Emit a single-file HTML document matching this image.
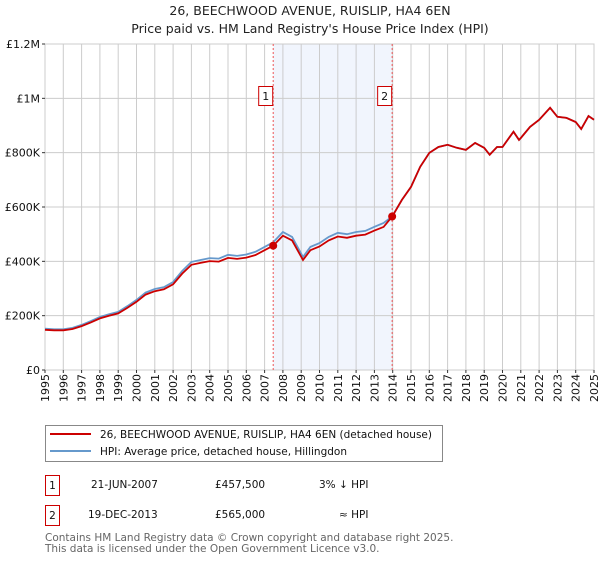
<!DOCTYPE html>
<html><head><meta charset="utf-8"><style>
body{margin:0;background:#fff;font-family:"DejaVu Sans","Liberation Sans",sans-serif;}
svg text{font-family:"DejaVu Sans","Liberation Sans",sans-serif;}
</style></head><body>
<svg id="chart" width="600" height="560" xmlns="http://www.w3.org/2000/svg">
<text x="310" y="15" text-anchor="middle" font-size="12.5" fill="#222">26, BEECHWOOD AVENUE, RUISLIP, HA4 6EN</text>
<text x="310" y="33" text-anchor="middle" font-size="12.5" fill="#222">Price paid vs. HM Land Registry's House Price Index (HPI)</text>
<g id="grid"></g><g id="series"></g><g id="axes"></g>
<g>
<rect x="45.5" y="425.5" width="397" height="36" fill="#fff" stroke="#888"/>
<line x1="50" y1="434" x2="91" y2="434" stroke="#cc0000" stroke-width="2"/>
<text x="100" y="438" font-size="10.5" fill="#111">26, BEECHWOOD AVENUE, RUISLIP, HA4 6EN (detached house)</text>
<line x1="50" y1="451" x2="91" y2="451" stroke="#6699cc" stroke-width="2"/>
<text x="100" y="455" font-size="10.5" fill="#111">HPI: Average price, detached house, Hillingdon</text>
</g>
<g font-size="10.5" fill="#111">
<rect x="45.5" y="475.5" width="14" height="20" fill="none" stroke="#cc0000"/>
<text x="52.5" y="489" text-anchor="middle">1</text>
<text x="91" y="488">21-JUN-2007</text>
<text x="215" y="488">£457,500</text>
<text x="319" y="488">3% ↓ HPI</text>
<rect x="45.5" y="505.5" width="14" height="20" fill="none" stroke="#cc0000"/>
<text x="52.5" y="519" text-anchor="middle">2</text>
<text x="88" y="518">19-DEC-2013</text>
<text x="215" y="518">£565,000</text>
<text x="339" y="518">≈ HPI</text>
</g>
<text x="45" y="541" font-size="10.5" fill="#666">Contains HM Land Registry data © Crown copyright and database right 2025.</text>
<text x="45" y="552" font-size="10.5" fill="#666">This data is licensed under the Open Government Licence v3.0.</text>
</svg>
<script>
const years=[1995,1995.5,1996,1996.5,1997,1997.5,1998,1998.5,1999,1999.5,2000,2000.5,2001,2001.5,2002,2002.5,2003,2003.5,2004,2004.5,2005,2005.5,2006,2006.5,2007,2007.47,2008,2008.5,2009.1,2009.5,2010,2010.5,2011,2011.5,2012,2012.5,2013,2013.5,2013.97,2014.5,2015,2015.5,2016,2016.5,2017,2017.5,2018,2018.5,2019,2019.3,2019.7,2020,2020.6,2020.9,2021,2021.5,2022,2022.6,2023,2023.5,2024,2024.3,2024.7,2025];
const hpi=[152,150,150,155,166,180,195,205,214,235,258,285,298,305,324,365,398,405,412,410,424,420,425,435,453,470,508,490,416,453,467,490,505,500,508,512,527,541,565,626,674,748,799,821,829,818,810,836,818,792,821,821,877,847,854,895,921,965,932,928,913,887,935,921];
const saleYears=[2007.47,2013.97];
const salePrices=[457.5,565];
const saleLabels=["1","2"];
const yTicks=[0,200,400,600,800,1000,1200];
const yTickLabels=["£0","£200K","£400K","£600K","£800K","£1M","£1.2M"];
const xTicks=[1995,1996,1997,1998,1999,2000,2001,2002,2003,2004,2005,2006,2007,2008,2009,2010,2011,2012,2013,2014,2015,2016,2017,2018,2019,2020,2021,2022,2023,2024,2025];
const X0=45,X1=594,Y0=370,Y1=44;
const xs=t=>X0+(t-1995)/30*(X1-X0);
const ys=v=>Y0-v/1200*(Y0-Y1);
const NS="http://www.w3.org/2000/svg";
function mk(tag,attrs,parent){const e=document.createElementNS(NS,tag);for(const k in attrs)e.setAttribute(k,attrs[k]);parent.appendChild(e);return e;}
const grid=document.getElementById('grid'),ser=document.getElementById('series'),ax=document.getElementById('axes');
let shade=mk('rect',{x:xs(saleYears[0]),y:Y1,width:xs(saleYears[1])-xs(saleYears[0]),height:Y0-Y1,fill:'#eef3fd',opacity:0.8},grid);


yTicks.forEach((v,i)=>{
 mk('line',{x1:X0,x2:X1,y1:ys(v),y2:ys(v),stroke:'#cccccc'},grid);
 mk('line',{x1:X0-3,x2:X0,y1:ys(v),y2:ys(v),stroke:'#333'},ax);
 const t=mk('text',{x:X0-5,y:ys(v)+4,'text-anchor':'end','font-size':'11',fill:'#111'},ax);
 t.textContent=yTickLabels[i];
 
 
});
xTicks.forEach(yr=>{
 mk('line',{x1:xs(yr),x2:xs(yr),y1:Y1,y2:Y0,stroke:'#cccccc'},grid);
 mk('line',{x1:xs(yr),x2:xs(yr),y1:Y0,y2:Y0+3,stroke:'#333'},ax);
 const x=xs(yr)+4,y=Y0+4;
 const t=mk('text',{x:x,y:y,'text-anchor':'end','font-size':'11',fill:'#111',transform:'rotate(-90 '+x+' '+y+')'},ax);
 t.textContent=yr;
 
 
});
mk('rect',{x:X0,y:Y1,width:X1-X0,height:Y0-Y1,fill:'none',stroke:'#cccccc'},grid);
function propVal(i){const t=years[i];let k=0;for(let s=0;s<saleYears.length;s++){if(t>=saleYears[s]-1e-9)k=s;}
 const hi=years.findIndex(y=>Math.abs(y-saleYears[k])<1e-6);return hpi[i]*salePrices[k]/hpi[hi];}
let dB='',dR='';
years.forEach((t,i)=>{dB+=(i?'L':'M')+xs(t).toFixed(1)+','+ys(hpi[i]).toFixed(1);dR+=(i?'L':'M')+xs(t).toFixed(1)+','+ys(propVal(i)).toFixed(1);});
const pb=mk('path',{d:dB,fill:'none',stroke:'#6699cc','stroke-width':1.8},ser);


const pr=mk('path',{d:dR,fill:'none',stroke:'#cc0000','stroke-width':1.8},ser);


saleYears.forEach((t,i)=>{
 mk('line',{x1:xs(t),x2:xs(t),y1:Y1,y2:Y0,stroke:'#ee5555','stroke-dasharray':'2,2','stroke-width':1},ser);
 const c=mk('circle',{cx:xs(t),cy:ys(salePrices[i]),r:4,fill:'#cc0000'},ser);
 
 
 mk('rect',{x:xs(t)-14.5,y:86.5,width:14,height:19,fill:'#fff',stroke:'#cc0000'},ser);
 const lb=mk('text',{x:xs(t)-7.5,y:100,'text-anchor':'middle','font-size':'11',fill:'#111'},ser);
 lb.textContent=saleLabels[i];
 
 
});
</script>
</body></html>
